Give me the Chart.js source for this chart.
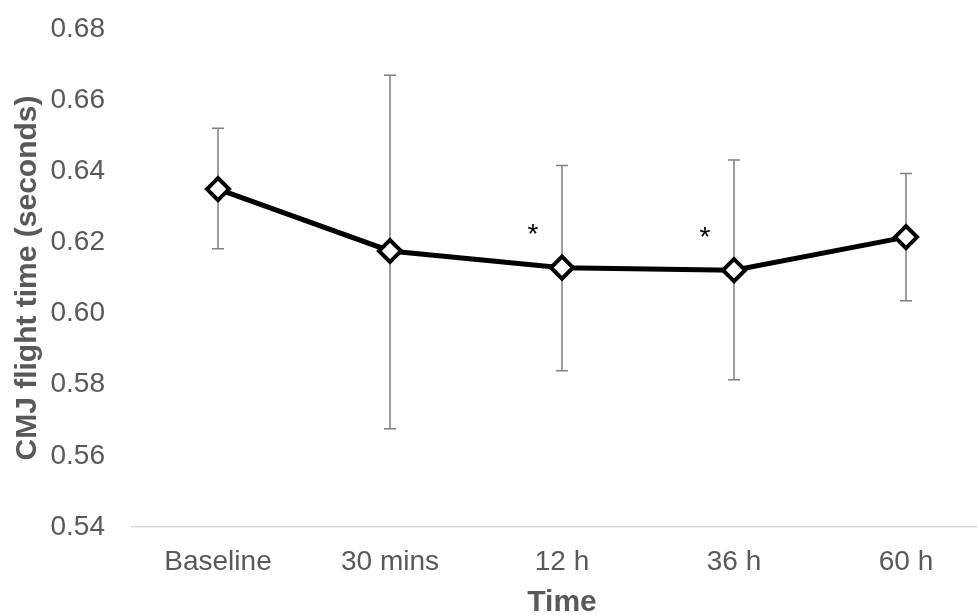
<!DOCTYPE html>
<html>
<head>
<meta charset="utf-8">
<script src="https://cdn.jsdelivr.net/npm/chart.js@4/dist/chart.umd.min.js"></script>
<style>
  html, body { margin: 0; padding: 0; background: #fff; overflow: hidden; }
  /* plot area runs a little past the right edge of the picture */
  #wrap { width: 1007px; height: 615px; }
</style>
</head>
<body>
<div id="wrap"><canvas id="cmjChart"></canvas></div>
<script>
// data
const timePoints = ['Baseline', '30 mins', '12 h', '36 h', '60 h'];
const meanFlight = [0.6350, 0.6176, 0.6129, 0.6122, 0.6215];
const errUpper = [0.6521, 0.6670, 0.6416, 0.6432, 0.6394];
const errLower = [0.6182, 0.5676, 0.5839, 0.5814, 0.6036];
const sigMarks = ['', '', '*', '*', ''];
const yTicks = [0.54, 0.56, 0.58, 0.60, 0.62, 0.64, 0.66, 0.68];

const FONT = '"Liberation Sans", Arial, sans-serif';

// error bars + significance asterisks
const errorBars = {
    id: 'errorBars',
    beforeDatasetsDraw(chart) {
        const ctx = chart.ctx;
        const x = chart.scales.x;
        const y = chart.scales.y;
        ctx.save();
        ctx.strokeStyle = '#7f7f7f';
        ctx.lineWidth = 1.5;
        timePoints.forEach((t, i) => {
            const px = x.getPixelForValue(i);
            const top = y.getPixelForValue(errUpper[i]);
            const bot = y.getPixelForValue(errLower[i]);
            ctx.beginPath();
            ctx.moveTo(px, top); ctx.lineTo(px, bot);
            ctx.moveTo(px - 6, top); ctx.lineTo(px + 6, top);
            ctx.moveTo(px - 6, bot); ctx.lineTo(px + 6, bot);
            ctx.stroke();
        });
        ctx.restore();
    },
    afterDatasetsDraw(chart) {
        const ctx = chart.ctx;
        const x = chart.scales.x;
        const y = chart.scales.y;
        ctx.save();
        ctx.fillStyle = '#000';
        ctx.font = '28px ' + FONT;
        ctx.textAlign = 'center';
        ctx.textBaseline = 'middle';
        sigMarks.forEach((m, i) => {
            if (!m) return;
            const px = x.getPixelForValue(i) - 29;
            const py = y.getPixelForValue(meanFlight[i]) - 32;
            ctx.fillText(m, px, py);
        });
        ctx.restore();
    }
};

new Chart(document.getElementById('cmjChart'), {
    type: 'line',
    data: {
        datasets: [{
            data: meanFlight.map((v, i) => ({ x: i, y: v })),
            borderColor: '#000',
            borderWidth: 5,
            tension: 0,
            pointStyle: 'rectRot',
            pointRadius: 11,
            pointHoverRadius: 11,
            pointBackgroundColor: '#fff',
            pointBorderColor: '#000',
            pointBorderWidth: 4
        }]
    },
    options: {
        responsive: true,
        maintainAspectRatio: false,
        animation: false,
        layout: { padding: { top: 29, right: 0, bottom: 0, left: 0 } },
        plugins: {
            legend: { display: false },
            tooltip: { enabled: false }
        },
        scales: {
            x: {
                type: 'linear',
                min: -0.5,
                max: 4.5,
                afterBuildTicks(scale) {
                    scale.ticks = timePoints.map((t, i) => ({ value: i }));
                },
                afterFit(scale) {
                    scale.height = 88;
                    scale.paddingLeft = 0;
                    scale.paddingRight = 0;
                },
                grid: { display: false },
                border: { display: true, color: '#d9d9d9', width: 1.5 },
                ticks: {
                    color: '#595959', font: { family: FONT, size: 28 }, padding: 10,
                    maxRotation: 0, autoSkip: false,
                    callback: v => timePoints[v]
                },
                title: {
                    display: true, text: 'Time', color: '#595959',
                    font: { family: FONT, size: 30, weight: 'bold', lineHeight: 1 },
                    padding: { top: 0, bottom: -3 }
                }
            },
            y: {
                min: 0.54,
                max: 0.68,
                afterBuildTicks(scale) {
                    scale.ticks = yTicks.map(v => ({ value: v }));
                },
                afterFit(scale) {
                    scale.width = 132;
                    scale.paddingTop = 0;
                    scale.paddingBottom = 0;
                },
                grid: { display: false, drawTicks: false },
                border: { display: false },
                ticks: {
                    color: '#595959', font: { family: FONT, size: 28 }, padding: 27,
                    callback: v => Number(v).toFixed(2)
                },
                title: {
                    display: true, text: 'CMJ flight time (seconds)', color: '#595959',
                    font: { family: FONT, size: 30, weight: 'bold' }, padding: { top: 10, bottom: 0 }
                }
            }
        }
    },
    plugins: [errorBars]
});
</script>
</body>
</html>
